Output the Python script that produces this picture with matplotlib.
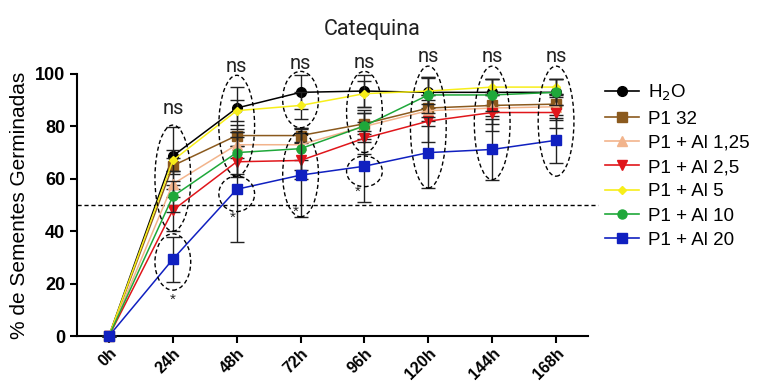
import matplotlib.pyplot as plt
from matplotlib.patches import Ellipse
from matplotlib.lines import Line2D

# Dati
tempi = ['0h', '24h', '48h', '72h', '96h', '120h', '144h', '168h']

serie = ['H$_2$O', 'P1 32', 'P1 + Al 1,25', 'P1 + Al 2,5', 'P1 + Al 5', 'P1 + Al 10', 'P1 + Al 20']

h2o = [0, 68.7, 87, 93, 93.5, 93, 93, 93]
p1_32 = [0, 65, 76.5, 76.5, 81, 87, 88, 88.5]
al_125 = [0, 58, 73, 73, 80, 86, 87, 87.5]
al_25 = [0, 48, 66.5, 67, 75.5, 82, 85.3, 85.3]
al_5 = [0, 67, 86, 88, 92.5, 93.5, 95, 95]
al_10 = [0, 53.3, 70, 71.5, 80.2, 92, 92, 93]
al_20 = [0, 29.3, 56, 61.4, 64.8, 70, 71.2, 74.7]

sd_h2o = [0, 11, 8, 6.5, 6, 6, 5, 5]
sd_p1_32 = [0, 3, 4, 3, 4, 5, 4, 4]
sd_al_125 = [0, 5, 5, 6, 5, 6, 6, 5]
sd_al_25 = [0, 8, 6, 7, 6, 8, 7, 6]
sd_al_5 = [0, 4, 4, 5, 5, 5, 3, 3]
sd_al_10 = [0, 6, 8, 8, 6, 7, 6, 5]
sd_al_20 = [0, 8.5, 20, 16, 13.5, 13.5, 11.5, 8.5]

# Ellissi tratteggiate: (posizione x, y basso, y alto)
ellissi = [(1, 40, 80.5), (1, 17.5, 39), (2, 61, 99.5), (2, 47.5, 61),
           (3, 79.5, 101), (3, 45.5, 78), (4, 70, 101), (4, 57, 68.7),
           (5, 56.5, 103), (6, 59.7, 103), (7, 61, 103)]
ns_y = [87, 102.7, 104, 104.5, 106.5, 106.5, 106.5]
asterischi = [(1, 14), (1.93, 45), (2.93, 47.5), (3.9, 55)]

colori = ['black', '#8B5A1E', '#F2B48C', '#E0161B', '#F7EE1A', '#1FA83A', '#1020C0']
marcatori = ['o', 's', '^', 'v', 'D', 'o', 's']
dimensioni = [7, 7, 7, 7, 4, 6.5, 7]

plt.rcParams['font.family'] = ['Liberation Sans', 'DejaVu Sans']

fig = plt.figure(figsize=(7.75, 3.83), dpi=100)
ax = fig.add_axes([0.0994, 0.1227, 0.6593, 0.6841])

x = list(range(len(tempi)))
dati = [h2o, p1_32, al_125, al_25, al_5, al_10, al_20]
sds = [sd_h2o, sd_p1_32, sd_al_125, sd_al_25, sd_al_5, sd_al_10, sd_al_20]

maniglie = []
for ind in range(len(serie)):
    ax.errorbar(x, dati[ind], yerr=sds[ind], color=colori[ind], ecolor='#222222',
                elinewidth=1, capsize=5, capthick=1, lw=1.1, marker=marcatori[ind],
                markersize=dimensioni[ind], clip_on=False, zorder=3 + ind * 0.1)
    maniglie.append(Line2D([], [], color=colori[ind], lw=1.2, marker=marcatori[ind],
                           markersize=dimensioni[ind], label=serie[ind]))

# Linea limite orizzontale al 50%
ax.plot([-0.5, 7.66], [50, 50], ls=(0, (3, 2)), color='black', lw=1, clip_on=False)

for (xe, y0, y1) in ellissi:
    e = Ellipse((xe, (y0 + y1) / 2), 0.56, y1 - y0, fill=False, ls=(0, (3, 2)),
                lw=1, ec='black', clip_on=False, zorder=6)
    ax.add_patch(e)

for ind in range(1, 8):
    ax.text(ind, ns_y[ind - 1], 'ns', ha='center', va='center', fontsize=14.5,
            family=['Roboto', 'DejaVu Sans'], color='#222222', clip_on=False)

for (xa, ya) in asterischi:
    ax.text(xa, ya, '*', ha='center', va='center', fontsize=11, color='#222222')

ax.set_xlim(-0.5, 7.5)
ax.set_ylim(0, 100)
ax.set_xticks(x)
ax.set_xticklabels(tempi, rotation=45, ha='right', rotation_mode='anchor',
                   fontsize=11.5, fontweight='bold')
ax.set_yticks([0, 20, 40, 60, 80, 100])
ax.set_yticklabels(['0', '20', '40', '60', '80', '100'], fontsize=13, fontweight='bold')
ax.tick_params(width=1.5, length=5)
ax.tick_params(axis='x', pad=2)
for s in ['top', 'right']:
    ax.spines[s].set_visible(False)
for s in ['left', 'bottom']:
    ax.spines[s].set_linewidth(1.5)
ax.set_ylabel('% de Sementes Germinadas', fontsize=15)
fig.text(372 / 775, 1 - 30 / 383, 'Catequina', ha='center', va='center', fontsize=15.5,
         family=['Roboto', 'DejaVu Sans'], color='#222222')

ax.legend(handles=maniglie, loc='upper left', bbox_to_anchor=(1.0, 1.03), frameon=False,
          fontsize=13.5, handlelength=1.8, labelspacing=0.38, handletextpad=0.5)

plt.savefig('out.png', dpi=100)
